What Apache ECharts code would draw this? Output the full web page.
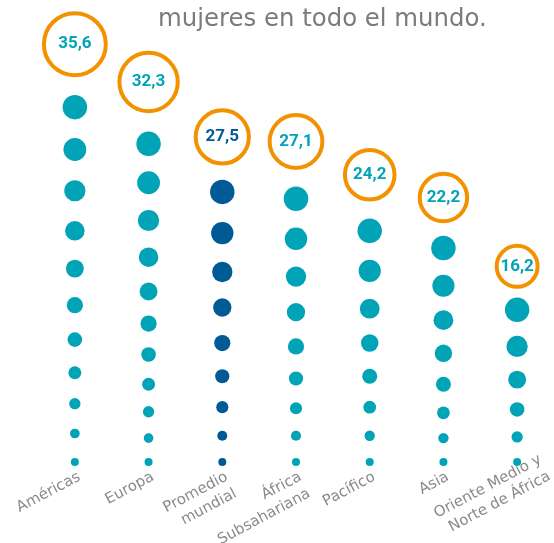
<!DOCTYPE html>
<html>
<head>
<meta charset="utf-8">
<script src="https://cdn.jsdelivr.net/npm/echarts@6/dist/echarts.min.js"></script>
<style>
  html, body { margin: 0; padding: 0; background: #fff; }
  #chart { width: 554px; height: 543px; }
</style>
</head>
<body>
<div id="chart"></div>
<script>
  // categorias y valores (% de mujeres)
  const categorias = ['Américas', 'Europa', 'Promedio\nmundial', 'África\nSubsahariana', 'Pacífico', 'Asia', 'Oriente Medio y\nNorte de África'];
  const valores = [35.6, 32.3, 27.5, 27.1, 24.2, 22.2, 16.2];

  // puntos de cada columna, de abajo hacia arriba
  const puntosAmericas = [-0.9, 1.6, 4.2, 6.9, 9.8, 12.8, 16.0, 19.3, 22.8, 26.4, 30.1];
  const puntosEuropa = [-0.9, 1.2, 3.5, 5.9, 8.5, 11.2, 14.0, 17.0, 20.2, 23.5, 26.9];
  const puntosPromedio = [-0.9, 1.4, 3.9, 6.6, 9.5, 12.6, 15.7, 19.1, 22.7];
  const puntosAfrica = [-0.9, 1.4, 3.8, 6.4, 9.2, 12.2, 15.3, 18.6, 22.1];
  const puntosPacifico = [-0.9, 1.4, 3.9, 6.6, 9.5, 12.5, 15.8, 19.3];
  const puntosAsia = [-0.9, 1.2, 3.4, 5.9, 8.6, 11.5, 14.5, 17.8];
  const puntosOriente = [-0.9, 1.3, 3.7, 6.3, 9.2, 12.4];

  const columnas = [puntosAmericas, puntosEuropa, puntosPromedio, puntosAfrica, puntosPacifico, puntosAsia, puntosOriente];

  const teal = '#00a4b6';
  const navy = '#005a96';
  const orange = '#f39200';
  const promedioIndex = 2;

  var puntosData = [];
  columnas.forEach(function (col, c) {
    var n = col.length;
    col.forEach(function (v, i) {
      puntosData.push({
        value: [c, v],
        symbolSize: 8 + 16.5 * i / (n - 1),
        itemStyle: { color: c === promedioIndex ? navy : teal }
      });
    });
  });

  var valoresData = valores.map(function (v, c) {
    return {
      value: [c, v],
      label: { color: c === promedioIndex ? navy : teal }
    };
  });

  // la ultima etiqueta va corrida a la derecha en el original
  var ultima = categorias.length - 1;
  var ejeData = categorias.map(function (name, c) {
    if (c === ultima) {
      return { value: name, textStyle: { padding: [0, -25, 0, 0] } };
    }
    return name;
  });

  var chart = echarts.init(document.getElementById('chart'), null, { renderer: 'canvas' });
  chart.setOption({
    animation: false,
    title: {
      text: 'mujeres en todo el mundo.',
      left: 158,
      top: 8,
      padding: 0,
      textStyle: {
        fontFamily: 'DejaVu Sans',
        fontSize: 24.4,
        fontWeight: 'normal',
        color: '#7b7b7b'
      }
    },
    grid: {
      left: 38,
      width: 516,
      top: 16.7,
      height: 458,
      containLabel: false,
      outerBoundsMode: 'none'
    },
    xAxis: {
      type: 'category',
      data: ejeData,
      axisLine: { show: false },
      axisTick: { show: false },
      splitLine: { show: false },
      axisLabel: {
        interval: 0,
        rotate: 28,
        margin: -7,
        verticalAlign: 'top',
        fontFamily: 'DejaVu Sans',
        fontSize: 15,
        lineHeight: 19,
        color: '#8a8a8a',
        formatter: function (value, index) {
          if (index !== ultima) {
            return value;
          }
          // linea vacia para bajar la ultima etiqueta
          var lineas = value.split('\n').map(function (l) {
            return '{t|' + l + '}';
          });
          return '{e| }\n' + lineas.join('\n');
        },
        rich: {
          e: { lineHeight: 25, fontSize: 15, fontFamily: 'DejaVu Sans' },
          t: { lineHeight: 19, fontSize: 15, fontFamily: 'DejaVu Sans', color: '#8a8a8a' }
        }
      }
    },
    yAxis: {
      type: 'value',
      min: -2,
      max: 38,
      show: false,
      splitLine: { show: false }
    },
    series: [
      {
        name: 'puntos',
        type: 'scatter',
        symbol: 'circle',
        itemStyle: { opacity: 1 },
        data: puntosData,
        silent: true
      },
      {
        name: 'valores',
        type: 'scatter',
        symbol: 'circle',
        symbolSize: function (val) {
          return 23.5 + 1.08 * val[1];
        },
        itemStyle: {
          color: '#fff',
          borderColor: orange,
          borderWidth: 4,
          opacity: 1
        },
        label: {
          show: true,
          position: 'inside',
          fontFamily: 'Roboto',
          fontWeight: 'bold',
          fontSize: 17,
          formatter: function (p) {
            return String(p.value[1].toFixed(1)).replace('.', ',');
          }
        },
        data: valoresData,
        z: 3
      }
    ]
  });
</script>
</body>
</html>
